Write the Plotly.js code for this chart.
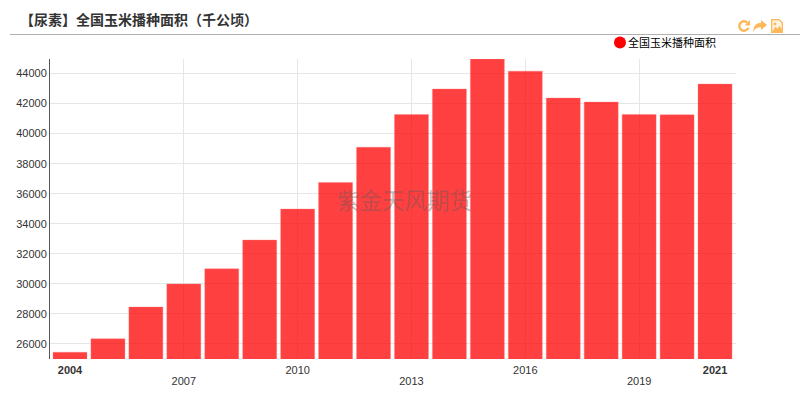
<!DOCTYPE html>
<html><head><meta charset="utf-8">
<script src="https://cdn.plot.ly/plotly-3.0.1.min.js"></script>
<style>html,body{margin:0;padding:0;background:#fff}#c{width:809px;height:413px}</style>
</head><body><div id="c"></div>
<script>
const years=[2004,2005,2006,2007,2008,2009,2010,2011,2012,2013,2014,2015,2016,2017,2018,2019,2020,2021];
const area=[25450,26350,28460,30000,31000,32920,34980,36750,39100,41270,42970,44968,44160,42370,42100,41280,41260,43300];
const seriesName='全国玉米播种面积';
const chartTitle='【尿素】全国玉米播种面积（千公顷）';
const watermark='紫金天风期货';
const xTickVals=[2004,2010,2016,2021];
const xTickText=['<b>2004</b>','2010','2016','<b>2021</b>'];
const xGridVals=[2007,2010,2013,2016,2019];
const xGridText=['2007','','2013','','2019'];
const yTickVals=[26000,28000,30000,32000,34000,36000,38000,40000,42000,44000];
const SANS='Arial, "Liberation Sans", "Noto Sans CJK SC", sans-serif';
const svg=(s)=>'data:image/svg+xml;utf8,'+encodeURIComponent(s);
const OR='#fdb85a';
const icons=[
 '<svg xmlns="http://www.w3.org/2000/svg" viewBox="0 0 12 12"><path d="M10.4 7.8A4.7 4.7 0 1 1 9.3 2.6" fill="none" stroke="'+OR+'" stroke-width="2.4"/><path d="M12 0v5.4H6.6z" fill="'+OR+'"/></svg>',
 '<svg xmlns="http://www.w3.org/2000/svg" viewBox="0 0 14 12"><path d="M8 0L14 5 8 10V7.2C4.5 7.2 2 8.2 0 12 0.3 6.5 3 3 8 2.8z" fill="'+OR+'"/></svg>',
 '<svg xmlns="http://www.w3.org/2000/svg" viewBox="0 0 12 14"><path d="M0.7 0.7H8L11.3 3.8V13.3H0.7z" fill="#fff3e0" stroke="'+OR+'" stroke-width="1.3"/><circle cx="4" cy="5" r="1.4" fill="'+OR+'"/><path d="M1 12.8L4.5 7.8 6.5 9.8 8.5 7 11 10.3V13H1z" fill="'+OR+'"/></svg>'
];
const W=809,H=413;
const traces=[
 {type:'bar',x:years,y:area,name:seriesName,showlegend:false,hoverinfo:'x+y',
  marker:{color:'rgba(255,0,0,0.75)',line:{color:'rgba(255,120,120,0.35)',width:1}}},
 {type:'scatter',mode:'markers',x:[null],y:[null],name:seriesName,showlegend:true,
  marker:{color:'#ff0000',size:11,symbol:'circle'}},
 {type:'scatter',mode:'markers',x:[null],y:[null],xaxis:'x2',yaxis:'y',showlegend:false,hoverinfo:'skip'}
];
const xr=[2003.473,2021.553];
const layout={
 width:W,height:H,paper_bgcolor:'#fff',plot_bgcolor:'#fff',
 margin:{l:50,r:73,t:59,b:54},
 font:{family:SANS,size:11,color:'#333'},
 showlegend:true,bargap:0.104,
 title:{text:'<b>'+chartTitle+'</b>',x:20/W,xanchor:'left',y:1-20/H,yanchor:'middle',
   font:{family:'"Noto Sans CJK SC", sans-serif',size:14,color:'#333'}},
 xaxis:{range:xr,type:'linear',tickvals:xTickVals,ticktext:xTickText,showgrid:false,zeroline:false,showline:false,ticks:'',
   tickfont:{size:11,color:'#333'},ticklabelstandoff:3,automargin:false},
 xaxis2:{range:xr,type:'linear',overlaying:'x',anchor:'y',side:'bottom',tickvals:xGridVals,ticktext:xGridText,showgrid:true,gridcolor:'#e6e6e6',gridwidth:1,zeroline:false,showline:false,ticks:'',
   tickfont:{size:11,color:'#333'},ticklabelstandoff:14,automargin:false},
 yaxis:{range:[25000,44968],tickvals:yTickVals,tickformat:'d',showgrid:true,gridcolor:'#e6e6e6',gridwidth:1,zeroline:false,
   showline:true,linecolor:'#555',linewidth:1,ticks:'',tickfont:{size:11,color:'#333'},automargin:false},
 legend:{x:(588-50)/686,y:1+(59-28)/300,xanchor:'left',yanchor:'top',orientation:'h',bgcolor:'rgba(0,0,0,0)',
   font:{size:11,color:'#000',family:'"Noto Sans CJK SC", sans-serif'},itemwidth:30,itemsizing:'constant',tracegroupgap:0},
 shapes:[{type:'line',xref:'paper',yref:'paper',x0:(10-50)/686,x1:(800-50)/686,y0:1+(59-34.5)/300,y1:1+(59-34.5)/300,line:{color:'#b0b0b0',width:1}}],
 annotations:[{text:watermark,xref:'paper',yref:'paper',x:(404.5-50)/686,y:(359-199)/300,showarrow:false,xanchor:'center',yanchor:'middle',
   font:{size:22.5,color:'rgba(90,90,90,0.4)',family:'"Noto Sans CJK SC", sans-serif'}}],
 images:[
  {source:svg(icons[0]),xref:'paper',yref:'paper',x:(738-50)/686,y:1+(59-20)/300,sizex:12/686,sizey:12/300,sizing:'stretch',xanchor:'left',yanchor:'top',layer:'above'},
  {source:svg(icons[1]),xref:'paper',yref:'paper',x:(753-50)/686,y:1+(59-20)/300,sizex:14/686,sizey:12/300,sizing:'stretch',xanchor:'left',yanchor:'top',layer:'above'},
  {source:svg(icons[2]),xref:'paper',yref:'paper',x:(771-50)/686,y:1+(59-19)/300,sizex:12/686,sizey:14/300,sizing:'stretch',xanchor:'left',yanchor:'top',layer:'above'}
 ]
};
Plotly.newPlot('c',traces,layout,{staticPlot:true,displayModeBar:false}).then(function(){
  document.querySelectorAll('#c .legend .legendsymbols').forEach(function(n){n.setAttribute('transform','translate(12,0)');});
});
</script></body></html>
